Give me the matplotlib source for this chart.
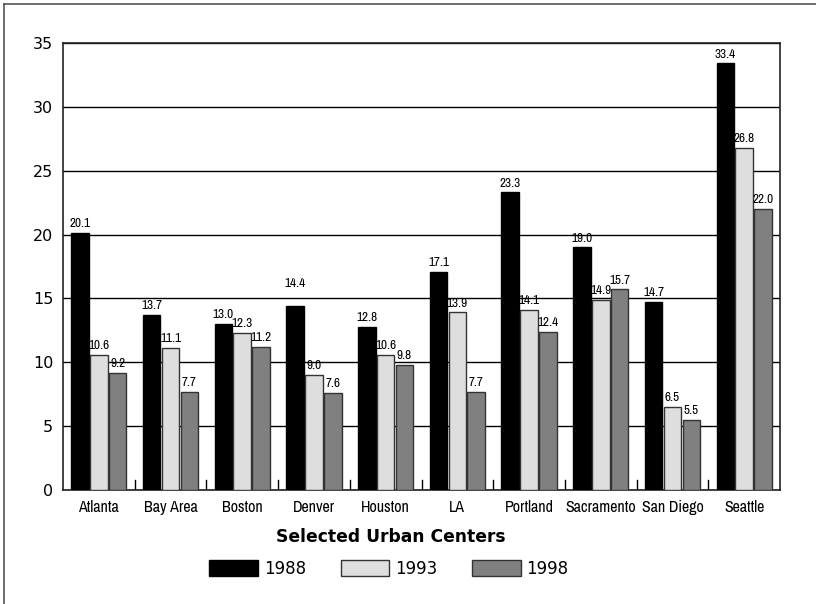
import numpy as np
import matplotlib.pyplot as plt
from matplotlib.patches import Patch
from matplotlib.lines import Line2D
from matplotlib import font_manager

cities = ["Atlanta", "Bay Area", "Boston", "Denver", "Houston", "LA",
          "Portland", "Sacramento", "San Diego", "Seattle"]
v1988 = [20.1, 13.7, 13.0, 14.4, 12.8, 17.1, 23.3, 19.0, 14.7, 33.4]
v1993 = [10.6, 11.1, 12.3, 9.0, 10.6, 13.9, 14.1, 14.9, 6.5, 26.8]
v1998 = [9.2, 7.7, 11.2, 7.6, 9.8, 7.7, 12.4, 15.7, 5.5, 22.0]
years = ["1988", "1993", "1998"]

# look for a condensed face, otherwise fall back to a narrow-ish sans
narrow = None
narrow_stretch = "normal"
for f in font_manager.fontManager.ttflist:
    if ("Narrow" in f.name or "Condensed" in f.name) and f.weight in (400, "normal", "regular"):
        narrow = f.name
        break
if narrow is None:
    for f in font_manager.fontManager.ttflist:
        if f.stretch in ("condensed", "semi-condensed", "extra-condensed") and f.style == "normal":
            narrow = f.name
            narrow_stretch = f.stretch
            break
if narrow is None:
    narrow = "Roboto"

fig = plt.figure(figsize=(8.16, 6.04), dpi=100)
ax = fig.add_axes([63 / 816, 1 - 490 / 604, 717 / 816, 447 / 604])

x = np.arange(len(cities))
w = 0.245
step = 0.263
colors = ["#000000", "#dedede", "#808080"]
edges = ["#000000", "#333333", "#333333"]
series = [v1988, v1993, v1998]

# the original has the Denver 1988 label sitting a bit higher
nudge = {(0, 3): 1.0}

for i, vals in enumerate(series):
    pos = x + (i - 1) * step
    ax.bar(pos, vals, width=w, color=colors[i], edgecolor=edges[i], linewidth=1, zorder=3)
    for j, (p, v) in enumerate(zip(pos, vals)):
        ax.text(p, v + 0.3 + nudge.get((i, j), 0), "%.1f" % v, ha="center", va="bottom",
                fontsize=9.5, family=narrow, fontstretch=narrow_stretch, zorder=4)

ax.set_xlim(-0.5, len(cities) - 0.5)
ax.set_ylim(0, 35)
ax.set_yticks(range(0, 36, 5))
ax.yaxis.grid(True, color="black", linewidth=1, zorder=0)
ax.tick_params(axis="y", length=0, labelsize=11.5, pad=7)
ax.set_xticks(x)
ax.set_xticklabels(cities, family=narrow, fontstretch=narrow_stretch, fontsize=11.5)
ax.tick_params(axis="x", length=0, pad=7)
# small inner ticks between groups
for b in np.arange(0.5, len(cities) - 1, 1):
    ax.plot([b, b], [0, 0.8], color="black", linewidth=1, zorder=2)
for s in ax.spines.values():
    s.set_linewidth(1.2)
    s.set_color("#222222")

cx = 391 / 816
fig.text(cx, 1 - 537 / 604, "Selected Urban Centers",
         ha="center", va="center", fontsize=12.3, fontweight="bold")

handles = [Patch(facecolor=colors[i], edgecolor=edges[i], label=years[i]) for i in range(3)]
fig.legend(handles=handles, loc="center", bbox_to_anchor=(cx - 2 / 816, 1 - 569 / 604),
           ncol=3, frameon=False, fontsize=12, handlelength=2.9, handleheight=1.1,
           columnspacing=2.1, handletextpad=0.35)

# outer frame (top and left visible)
fig.add_artist(Line2D([4 / 816, 1], [1 - 4 / 604, 1 - 4 / 604], color="#555555", linewidth=1.2))
fig.add_artist(Line2D([4 / 816, 4 / 816], [0, 1 - 4 / 604], color="#555555", linewidth=1.2))

fig.savefig("out.png", dpi=100)
